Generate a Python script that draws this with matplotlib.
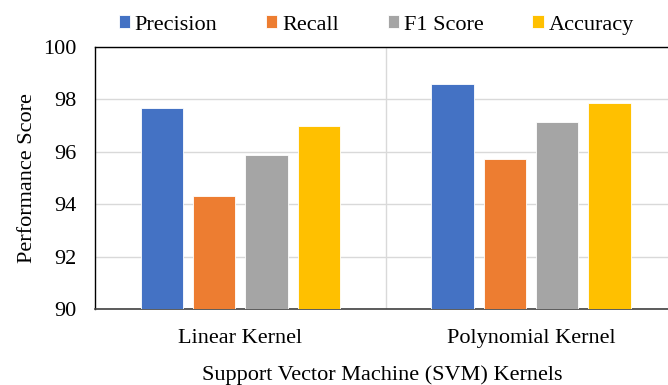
import matplotlib.pyplot as plt
import numpy as np

# scores for each SVM kernel
kernels = ["Linear Kernel", "Polynomial Kernel"]
metrics = ["Precision", "Recall", "F1 Score", "Accuracy"]
precision = [97.67, 98.58]
recall = [94.31, 95.71]
f1_score = [95.86, 97.15]
accuracy = [96.99, 97.86]
colors = ["#4472C4", "#ED7D31", "#A5A5A5", "#FFC000"]

plt.rcParams['font.family'] = ['Liberation Serif', 'DejaVu Serif']

fig = plt.figure(figsize=(6.68, 3.85), dpi=100)
ax = fig.add_axes([0.1422, 0.1966, 0.8704, 0.6821])

x = np.arange(len(kernels))
width = 0.145
step = 0.18
series = [precision, recall, f1_score, accuracy]
for i, (name, vals) in enumerate(zip(metrics, series)):
    ax.bar(x + (i - 1.5) * step, np.array(vals) - 90, width, bottom=90,
           color=colors[i], edgecolor="white", linewidth=0.6, label=name, zorder=3)

ax.set_ylim(90, 100)
ax.set_yticks([90, 92, 94, 96, 98, 100])
ax.set_xlim(-0.5, 1.5)
ax.set_xticks(x)
ax.set_xticklabels(kernels)
ax.set_xticks([0.5], minor=True)
ax.grid(axis='y', color="#D9D9D9", linewidth=1, zorder=0)
ax.grid(axis='x', which='minor', color="#D9D9D9", linewidth=1, zorder=0)
ax.tick_params(axis='both', which='both', length=0, labelsize=16)
ax.tick_params(axis='y', pad=13)
ax.tick_params(axis='x', pad=14)

for s in ['left', 'top', 'right']:
    ax.spines[s].set_color('black')
    ax.spines[s].set_linewidth(1)
ax.spines['bottom'].set_color('#404040')
ax.spines['bottom'].set_linewidth(1.2)

ax.set_ylabel("Performance Score", fontsize=16)
ax.yaxis.set_label_coords(-0.100, 0.5)
ax.set_xlabel("Support Vector Machine (SVM) Kernels", fontsize=16)
ax.xaxis.set_label_coords((382 - 95) / 581.4, -0.212)

fig.legend(loc='center', bbox_to_anchor=(0.563, 0.935), ncol=4, frameon=False,
           fontsize=16, handlelength=0.5, handleheight=0.5, handletextpad=0.22,
           columnspacing=2.2)

plt.savefig('out.png', dpi=100)
